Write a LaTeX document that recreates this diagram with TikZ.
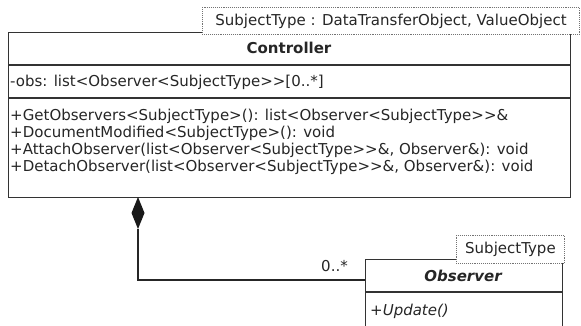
\documentclass[tikz,border=0pt]{standalone}
\usepackage{fontspec}
\setmainfont{DejaVu Sans}
\begin{document}
\begin{tikzpicture}[x=1pt,y=-1pt,
  box/.style={draw=black!80, line width=1.1pt, fill=white, inner sep=0pt},
  tmpl/.style={draw=black!55, densely dotted, line width=0.9pt, fill=white, inner sep=0pt},
  txt/.style={font=\fontsize{15}{17}\selectfont, text=black!85, inner sep=0pt},
  sep/.style={draw=black!80, line width=1.1pt},
  conn/.style={draw=black!85, line width=1.1pt}]
\useasboundingbox (0,0) rectangle (581,326);
\clip (0,0) rectangle (581,326);
% Controller class
\node[box, anchor=north west, minimum width=562pt, minimum height=165pt] (ctrl) at (8,32) {};
\draw[sep] (8,65) -- (570,65);
\draw[sep] (8,98) -- (570,98);
\node[txt, font=\fontsize{15}{17}\selectfont\bfseries] (ctitle) at (289,48) {Controller};
\node[txt, anchor=west] (cattr) at (10,82) {-obs: list<Observer<SubjectType>{}>[0..*]};
\node[txt, anchor=west] (m1) at (10,116) {+GetObservers<SubjectType>(): list<Observer<SubjectType>{}>\&};
\node[txt, anchor=west] (m2) at (10,133) {+DocumentModified<SubjectType>(): void};
\node[txt, anchor=west] (m3) at (10,150) {+AttachObserver(list<Observer<SubjectType>{}>\&, Observer\&): void};
\node[txt, anchor=west] (m4) at (10,167) {+DetachObserver(list<Observer<SubjectType>{}>\&, Observer\&): void};
% template parameter box of Controller
\node[tmpl, anchor=north west, minimum width=377pt, minimum height=27pt] (ct) at (202,7) {};
\node[txt] (cttext) at (ct.center) {SubjectType : DataTransferObject, ValueObject};
% Observer class
\node[box, anchor=north west, minimum width=197pt, minimum height=100pt] (obs) at (365,259) {};
\draw[sep] (365,292) -- (562,292);
\node[txt, font=\fontsize{15}{17}\selectfont\bfseries\itshape] (otitle) at (463,276) {Observer};
\node[txt, font=\fontsize{15}{17}\selectfont\itshape, anchor=west] (om1) at (370,311) {+Update()};
\node[tmpl, anchor=north west, minimum width=108pt, minimum height=28pt] (ot) at (456,235) {};
\node[txt] (ottext) at (ot.center) {SubjectType};
% composition
\coordinate (dtop) at (138,197);
\coordinate (dbot) at (138,229);
\fill[black!90] (dtop) -- (144.5,213) -- (dbot) -- (131.5,213) -- cycle;
\coordinate (oend) at (obs.north west |- 0,280);
\draw[conn] (dbot) |- (oend);
\node[txt, anchor=east] (mult) at (348,266) {0..*};
\end{tikzpicture}
\end{document}
